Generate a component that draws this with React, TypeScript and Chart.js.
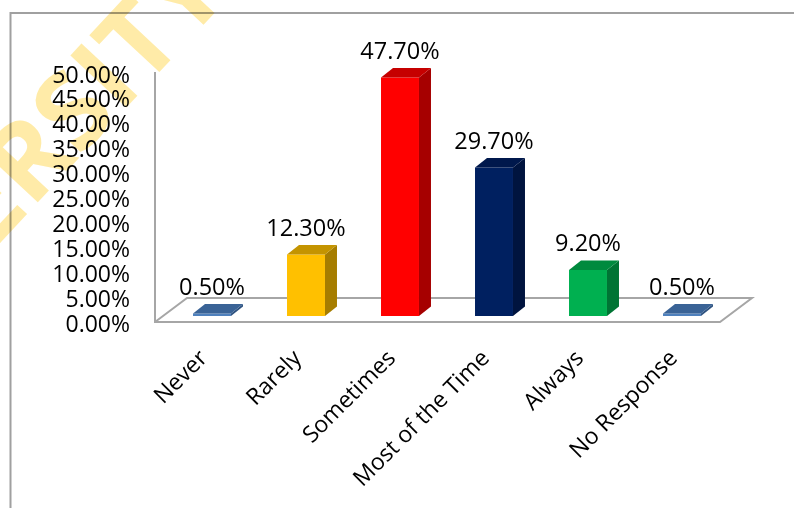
import React, { useEffect, useRef } from "react";
import { Chart, registerables } from "chart.js";

Chart.register(...registerables);

const categories = ["Never", "Rarely", "Sometimes", "Most of the Time", "Always", "No Response"];
const percentages = [0.5, 12.3, 47.7, 29.7, 9.2, 0.5];
const frontColors = ["#4F81BD", "#FFC000", "#FF0000", "#002060", "#00B050", "#4F81BD"];
const topColors = ["#3A6396", "#C49400", "#C60000", "#00184C", "#008A3E", "#3A6396"];
const sideColors = ["#2F5380", "#A67D00", "#A60000", "#00143F", "#007434", "#2F5380"];
const watermarkText = "UNIVERSITY";

const FONT = '"Open Sans", sans-serif';
const DEPTH_X = 12;
const DEPTH_Y = 9.5;

const poly = (ctx: CanvasRenderingContext2D, pts: number[][], fill: string) => {
  ctx.beginPath();
  pts.forEach(([x, y], i) => (i ? ctx.lineTo(x, y) : ctx.moveTo(x, y)));
  ctx.closePath();
  ctx.fillStyle = fill;
  ctx.fill();
};

const box3d = {
  id: "box3d",
  beforeDatasetsDraw(chart: any) {
    const { ctx, chartArea: a } = chart;
    ctx.save();
    ctx.strokeStyle = "#A6A6A6";
    ctx.lineWidth = 2;
    ctx.lineJoin = "miter";
    ctx.beginPath();
    ctx.moveTo(a.left - 10, a.top + 6);
    ctx.lineTo(a.left - 10, a.bottom - 3);
    ctx.lineTo(a.right - 9, a.bottom - 3);
    ctx.lineTo(a.right + 23, a.bottom - 27);
    ctx.lineTo(a.left + 22, a.bottom - 27);
    ctx.lineTo(a.left - 10, a.bottom - 3);
    ctx.stroke();
    ctx.strokeStyle = "#A0A0A0";
    ctx.beginPath();
    ctx.moveTo(10.5, chart.height);
    ctx.lineTo(10.5, 13);
    ctx.lineTo(chart.width, 13);
    ctx.stroke();
    ctx.restore();
  },
  afterDatasetsDraw(chart: any) {
    const { ctx } = chart;
    const meta = chart.getDatasetMeta(0);
    ctx.save();
    meta.data.forEach((bar: any, i: number) => {
      const right = bar.x + bar.width / 2;
      const left = bar.x - bar.width / 2;
      poly(ctx, [[right, bar.y], [right + DEPTH_X, bar.y - DEPTH_Y], [right + DEPTH_X, bar.base - DEPTH_Y], [right, bar.base]], sideColors[i]);
      poly(ctx, [[left, bar.y], [left + DEPTH_X, bar.y - DEPTH_Y], [right + DEPTH_X, bar.y - DEPTH_Y], [right, bar.y]], topColors[i]);
      ctx.fillStyle = "#000000";
      ctx.font = `23.5px ${FONT}`;
      ctx.textAlign = "center";
      ctx.textBaseline = "middle";
      ctx.fillText(percentages[i].toFixed(2) + "%", bar.x, bar.y - 25.5);
    });
    ctx.restore();
  },
  afterDraw(chart: any) {
    const { ctx } = chart;
    ctx.save();
    ctx.globalCompositeOperation = "multiply";
    ctx.translate(165, 66);
    ctx.rotate((-47 * Math.PI) / 180);
    ctx.fillStyle = "#FFEBA8";
    ctx.font = `700 107px "Open Sans", sans-serif`;
    ctx.textAlign = "left";
    ctx.textBaseline = "alphabetic";
    const before = ctx.measureText(watermarkText.slice(0, 8)).width;
    const stem = ctx.measureText("T").width / 2;
    ctx.fillText(watermarkText, -before - stem, 0);
    ctx.restore();
  },
};

export default function App() {
  const ref = useRef<HTMLCanvasElement>(null);
  useEffect(() => {
    document.body.style.margin = "0";
    const chart = new Chart(ref.current!, {
      type: "bar",
      data: {
        labels: categories,
        datasets: [
          {
            data: percentages,
            backgroundColor: frontColors,
            barPercentage: 0.404,
            categoryPercentage: 1,
            yAxisID: "bars",
          },
        ],
      },
      options: {
        responsive: false,
        animation: false,
        layout: { padding: { top: 66, right: 65, left: 0, bottom: 0 } },
        plugins: { legend: { display: false }, tooltip: { enabled: false } },
        scales: {
          x: {
            grid: { display: false },
            border: { display: false },
            afterFit: (s: any) => {
              s.height = 183;
            },
            ticks: {
              autoSkip: false,
              minRotation: 45,
              maxRotation: 45,
              padding: 12,
              labelOffset: -8,
              color: "#000000",
              font: { family: FONT, size: 23 },
            },
          },
          // The label axis sits below the bar axis, as on the reference's 3D floor.
          y: {
            position: "left",
            min: 0,
            max: 52,
            grid: { display: false },
            border: { display: false },
            afterFit: (s: any) => {
              s.width = 165;
            },
            ticks: {
              stepSize: 5,
              autoSkip: false,
              includeBounds: false,
              padding: 27,
              color: "#000000",
              font: { family: FONT, size: 23 },
              callback: (v: any) => Number(v).toFixed(2) + "%",
            },
          },
          bars: { display: false, min: -1.8, max: 50 },
        },
      },
      plugins: [box3d],
    } as any);
    return () => chart.destroy();
  }, []);
  return <canvas ref={ref} width={794} height={508} style={{ display: "block" }} />;
}
